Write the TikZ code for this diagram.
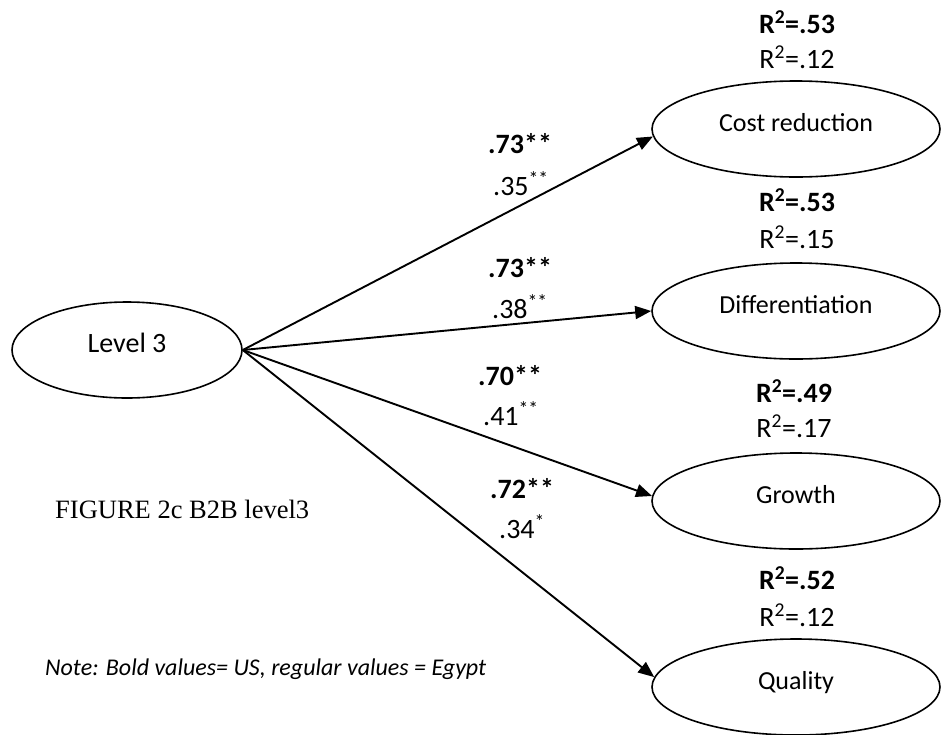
\documentclass[tikz,border=0pt]{standalone}
\usepackage{fontspec}
\setmainfont{Carlito}
\newfontfamily\timesfont{Liberation Serif}
\usetikzlibrary{arrows.meta,shapes.geometric}

\begin{document}
\begin{tikzpicture}[x=1pt,y=-1pt,
        latent/.style={draw,ellipse,line width=1.6pt,inner sep=0pt,minimum width=288pt,minimum height=96pt,
            text height=18pt,text depth=14pt,font=\fontsize{26}{31}\selectfont},
        path arrow/.style={line width=1.9pt,-{Triangle[length=16pt,width=13pt]}},
        us coef/.style={anchor=base west,inner sep=0pt,font=\fontsize{28}{34}\selectfont\bfseries},
        eg coef/.style={anchor=base west,inner sep=0pt,font=\fontsize{28}{34}\selectfont},
        us rsq/.style={anchor=base,inner sep=0pt,font=\fontsize{28}{34}\selectfont\bfseries},
        eg rsq/.style={anchor=base,inner sep=0pt,font=\fontsize{28}{34}\selectfont}]
    \useasboundingbox (0,0) rectangle (942,734);
    % latent variables
    \node [latent,minimum width=230pt,text height=19pt,text depth=15pt,font=\fontsize{28}{34}\selectfont] (level three) at (127,350) {Level 3};
    \node [latent] (cost reduction) at (796,129) {Cost reduction};
    \node [latent] (differentiation) at (796,311) {Differentiation};
    \node [latent] (growth) at (796,501) {Growth};
    \node [latent] (quality) at (796,687) {Quality};
    % paths
    \draw [path arrow] (level three.east) -- (cost reduction.183);
    \draw [path arrow] (level three.east) -- (differentiation.west);
    \draw [path arrow] (level three.east) -- (growth.178);
    \draw [path arrow] (level three.east) -- (quality.176);
    % coefficients
    \node [us coef] (us cost) at (488,153) {.73**};
    \node [eg coef] (eg cost) at (493,195) {.35\textsuperscript{**}};
    \node [us coef] (us diff) at (488,277) {.73**};
    \node [eg coef] (eg diff) at (492,318) {.38\textsuperscript{**}};
    \node [us coef] (us growth) at (478,385) {.70**};
    \node [eg coef] (eg growth) at (483,425) {.41\textsuperscript{**}};
    \node [us coef] (us quality) at (490,498) {.72**};
    \node [eg coef] (eg quality) at (499,538) {.34\textsuperscript{*}};
    % explained variance
    \node [us rsq] (us r2 cost) at (797,33) {R\textsuperscript{2}=.53};
    \node [eg rsq] (eg r2 cost) at (797,68) {R\textsuperscript{2}=.12};
    \node [us rsq] (us r2 diff) at (797,211) {R\textsuperscript{2}=.53};
    \node [eg rsq] (eg r2 diff) at (797,248) {R\textsuperscript{2}=.15};
    \node [us rsq] (us r2 growth) at (794,402) {R\textsuperscript{2}=.49};
    \node [eg rsq] (eg r2 growth) at (794,437) {R\textsuperscript{2}=.17};
    \node [us rsq] (us r2 quality) at (797,589) {R\textsuperscript{2}=.52};
    \node [eg rsq] (eg r2 quality) at (797,626) {R\textsuperscript{2}=.12};
    % caption and note
    \node [anchor=base west,inner sep=0pt,font=\timesfont\fontsize{26.5}{32}\selectfont] (caption) at (55,518) {FIGURE 2c B2B level3};
    \node [anchor=base west,inner sep=0pt,font=\fontsize{24}{29}\selectfont\itshape] (note) at (45,675) {Note: Bold values= US, regular values = Egypt};
\end{tikzpicture}
\end{document}
